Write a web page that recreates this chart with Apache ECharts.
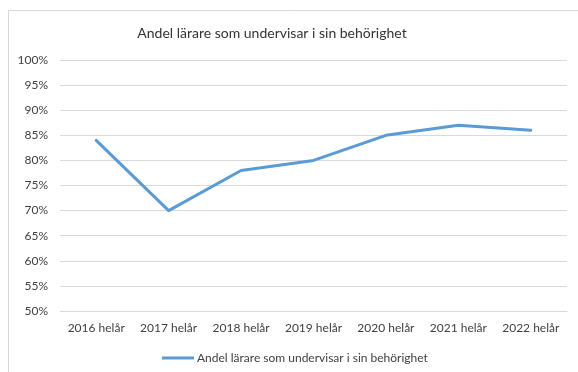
<!DOCTYPE html>
<html>
<head>
<meta charset="utf-8">
<script src="https://cdn.jsdelivr.net/npm/echarts@6/dist/echarts.min.js"></script>
<style>
  html, body { margin: 0; padding: 0; background: #fff; }
  #chart { width: 578px; height: 372px; }
</style>
</head>
<body>
<div id="chart"></div>
<script>
const categories = ['2016 helår', '2017 helår', '2018 helår', '2019 helår', '2020 helår', '2021 helår', '2022 helår'];
const shareValues = [84, 70, 78, 80, 85, 87, 86];
const seriesName = 'Andel lärare som undervisar i sin behörighet';
const titleText = 'Andel lärare som undervisar i sin behörighet';

const fontFamily = 'Lato, "Open Sans", sans-serif';
const chart = echarts.init(document.getElementById('chart'), null, { renderer: 'canvas' });

chart.setOption({
  backgroundColor: '#ffffff',
  animation: false,
  graphic: [{
    type: 'rect',
    shape: { x: 8.5, y: 10.5, width: 580, height: 370 },
    style: { fill: 'none', stroke: '#d9d9d9', lineWidth: 1 },
    silent: true
  }],
  title: {
    text: titleText,
    left: 267,
    top: 21,
    textAlign: 'center',
    textStyle: { fontFamily, fontSize: 14, fontWeight: 'normal', color: '#333333' }
  },
  legend: {
    data: [seriesName],
    left: 157,
    top: 347,
    itemWidth: 32,
    itemHeight: 3,
    itemGap: 4,
    icon: 'rect',
    textStyle: { fontFamily, fontSize: 12, color: '#404040', padding: [0, 0, 0, -2] }
  },
  grid: { left: 60, right: 11, top: 60, bottom: 61, containLabel: false },
  xAxis: {
    type: 'category',
    data: categories,
    boundaryGap: true,
    axisLine: { show: true, lineStyle: { color: '#d9d9d9', width: 1 } },
    axisTick: { show: false },
    axisLabel: { fontFamily, fontSize: 12, color: '#404040', margin: 11, interval: 0, hideOverlap: false }
  },
  yAxis: {
    type: 'value',
    min: 50,
    max: 100,
    interval: 5,
    axisLine: { show: false },
    axisTick: { show: false },
    axisLabel: { fontFamily, fontSize: 12, color: '#404040', margin: 12, formatter: '{value}%' },
    splitLine: { lineStyle: { color: '#d9d9d9', width: 1 } }
  },
  series: [{
    name: seriesName,
    type: 'line',
    data: shareValues,
    symbol: 'none',
    lineStyle: { color: '#5b9bd5', width: 3, cap: 'round', join: 'round' },
    itemStyle: { color: '#5b9bd5' }
  }]
});
</script>
</body>
</html>
